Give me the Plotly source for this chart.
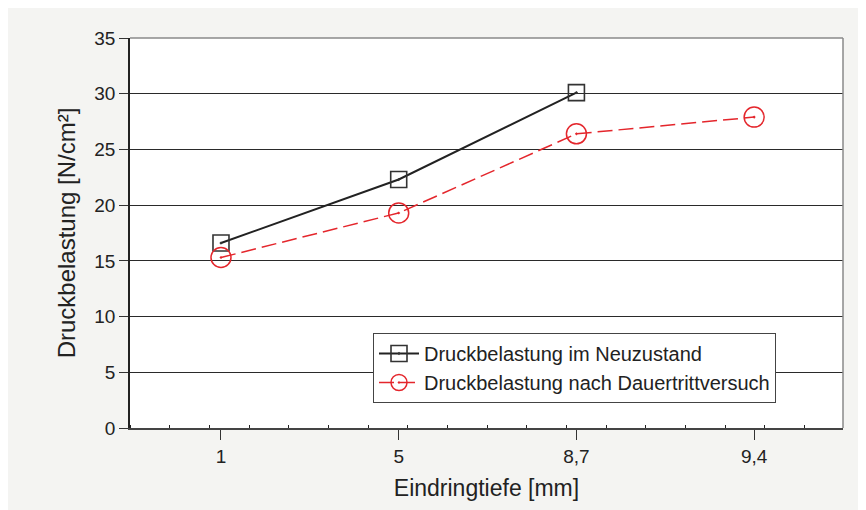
import plotly.graph_objects as go

categories = ["1", "5", "8,7", "9,4"]
neu_values = [16.6, 22.3, 30.1]
dauer_values = [15.3, 19.3, 26.4, 27.9]
y_ticks = [0, 5, 10, 15, 20, 25, 30, 35]

x_idx = list(range(len(categories)))

W, H = 866, 510
L, R, T, B = 122, 31, 30, 90
pw, ph = W - L - R, H - T - B

font_family = "Liberation Sans, Arial, sans-serif"
red = "#e4262c"

fig = go.Figure()
fig.add_trace(go.Scatter(
    x=x_idx[:len(neu_values)], y=neu_values, mode="lines+markers",
    name="Druckbelastung im Neuzustand",
    line=dict(color="#222222", width=2),
    marker=dict(symbol="square-open-dot", size=16, color="#333333",
                line=dict(width=1.6, color="#333333")),
))
fig.add_trace(go.Scatter(
    x=x_idx, y=dauer_values, mode="lines+markers",
    name="Druckbelastung nach Dauertrittversuch",
    line=dict(color=red, width=1.5, dash="15px,6px"),
    marker=dict(symbol="circle-open-dot", size=20, color=red,
                line=dict(width=1.5, color=red)),
))

shapes = [
    dict(type="line", xref="paper", yref="paper", x0=0, x1=1, y0=1, y1=1,
         line=dict(color="#8a8a8a", width=1.5)),
    dict(type="line", xref="paper", yref="paper", x0=1, x1=1, y0=0, y1=1,
         line=dict(color="#8a8a8a", width=1.5)),
]

fig.update_layout(
    width=W, height=H,
    margin=dict(l=L, r=R, t=T, b=B),
    paper_bgcolor="#f4f4f2",
    plot_bgcolor="white",
    font=dict(family=font_family, color="#222222", size=19),
    showlegend=True,
    legend=dict(
        x=(365 - L) / pw, y=(H - B - 325) / ph, xanchor="left", yanchor="top",
        bgcolor="white", bordercolor="#444444", borderwidth=1,
        font=dict(size=20, family=font_family, color="#222222"),
        tracegroupgap=0, itemwidth=40,
    ),
    shapes=shapes,
    xaxis=dict(
        range=[-0.512, 3.5],
        tickmode="array", tickvals=x_idx, ticktext=categories,
        ticks="outside", ticklen=10, tickcolor="#333333", tickwidth=1,
        showgrid=False, zeroline=False,
        showline=True, linecolor="#444444", linewidth=1.5,
        tickfont=dict(size=19),
        title=dict(text="Eindringtiefe [mm]", font=dict(size=23), standoff=14),
        minor=dict(ticks="inside", ticklen=3, tickcolor="#222222",
                   tick0=-0.512, dtick=0.2233, showgrid=False),
    ),
    yaxis=dict(
        range=[0, 35],
        tickmode="array", tickvals=y_ticks,
        ticks="outside", ticklen=9, tickcolor="#333333", tickwidth=1,
        showgrid=True, gridcolor="#2a2a2a", gridwidth=1,
        zeroline=False,
        showline=True, linecolor="#222222", linewidth=1.5,
        tickfont=dict(size=19),
        title=dict(text="Druckbelastung [N/cm²]", font=dict(size=24), standoff=12),
    ),
)

fig.write_html("out.html")
